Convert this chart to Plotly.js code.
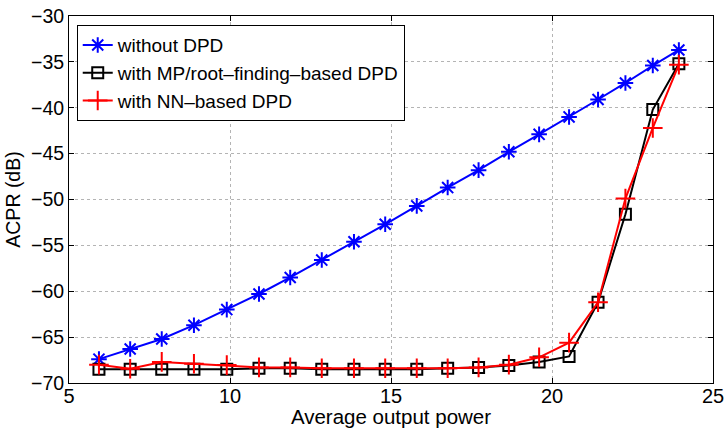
<!DOCTYPE html>
<html>
<head>
<meta charset="utf-8">
<script src="https://cdn.plot.ly/plotly-3.0.1.min.js"></script>
<style>html,body{margin:0;padding:0;background:#fff;}#chart{width:725px;height:428px;}</style>
</head>
<body>
<div id="chart"></div>
<script>
const xPower = [5.93, 6.9, 7.88, 8.88, 9.9, 10.9, 11.87, 12.85, 13.85, 14.82, 15.8, 16.76, 17.72, 18.66, 19.6, 20.53, 21.43, 22.28, 23.13, 23.94];
const withoutDPD = [-67.4, -66.3, -65.2, -63.7, -62.0, -60.3, -58.5, -56.6, -54.6, -52.7, -50.7, -48.7, -46.8, -44.8, -42.9, -41.0, -39.1, -37.3, -35.4, -33.7];
const mpDPD = [-68.5, -68.5, -68.5, -68.5, -68.5, -68.4, -68.4, -68.5, -68.5, -68.5, -68.5, -68.4, -68.3, -68.1, -67.7, -67.1, -61.2, -51.6, -40.2, -35.2];
const nnDPD = [-68.0, -68.45, -67.7, -67.9, -68.05, -68.3, -68.3, -68.4, -68.4, -68.4, -68.4, -68.4, -68.3, -68.0, -67.2, -65.6, -61.2, -49.9, -42.2, -35.3];
const seriesNames = ['without DPD', 'with MP/root\u2013finding\u2013based DPD', 'with NN\u2013based DPD'];
const xTicks = [5, 10, 15, 20, 25];
const yTicks = [-70, -65, -60, -55, -50, -45, -40, -35, -30];

const traces = [
  {x: xPower, y: withoutDPD, name: seriesNames[0], mode: 'lines+markers',
   line: {color: '#0000ff', width: 2},
   marker: {symbol: 'asterisk-open', size: 13, color: '#0000ff', line: {color: '#0000ff', width: 2}}},
  {x: xPower, y: mpDPD, name: seriesNames[1], mode: 'lines+markers',
   line: {color: '#000000', width: 2},
   marker: {symbol: 'square-open', size: 11, color: '#000000', line: {color: '#000000', width: 2}}},
  {x: xPower, y: nnDPD, name: seriesNames[2], mode: 'lines+markers',
   line: {color: '#ff0000', width: 2},
   marker: {symbol: 'cross-thin-open', size: 14, color: '#ff0000', line: {color: '#ff0000', width: 2}}}
];

const axisCommon = {
  showline: true, linecolor: '#000', linewidth: 1, mirror: 'ticks',
  ticks: 'inside', ticklen: 5, tickcolor: '#000', tickwidth: 1,
  showgrid: true, gridcolor: '#b4b4b4', griddash: 'dot', gridwidth: 1,
  zeroline: false, tickfont: {size: 19.5, color: '#000'}
};

const layout = {
  width: 725, height: 428,
  margin: {l: 69, r: 12, t: 16, b: 45},
  paper_bgcolor: '#fff', plot_bgcolor: '#fff',
  font: {family: '"Liberation Sans", Arial, Helvetica, sans-serif', size: 19, color: '#000'},
  showlegend: true,
  legend: {x: 0.012, y: 0.975, xanchor: 'left', yanchor: 'top',
           bgcolor: '#fff', bordercolor: '#000', borderwidth: 1,
           font: {size: 19}, tracegroupgap: 0, itemwidth: 30},
  xaxis: Object.assign({}, axisCommon, {range: [5, 25], tickvals: xTicks, ticktext: xTicks.map(String),
          tickfont: {size: 20, color: '#000'}, ticklabelstandoff: -5,
          title: {text: 'Average output power', font: {size: 20.5}}}),
  yaxis: Object.assign({}, axisCommon, {range: [-70, -30], tickvals: yTicks,
          title: {text: 'ACPR (dB)', font: {size: 19.5}}})
};

Plotly.newPlot('chart', traces, layout, {displayModeBar: false, staticPlot: true});
</script>
</body>
</html>
